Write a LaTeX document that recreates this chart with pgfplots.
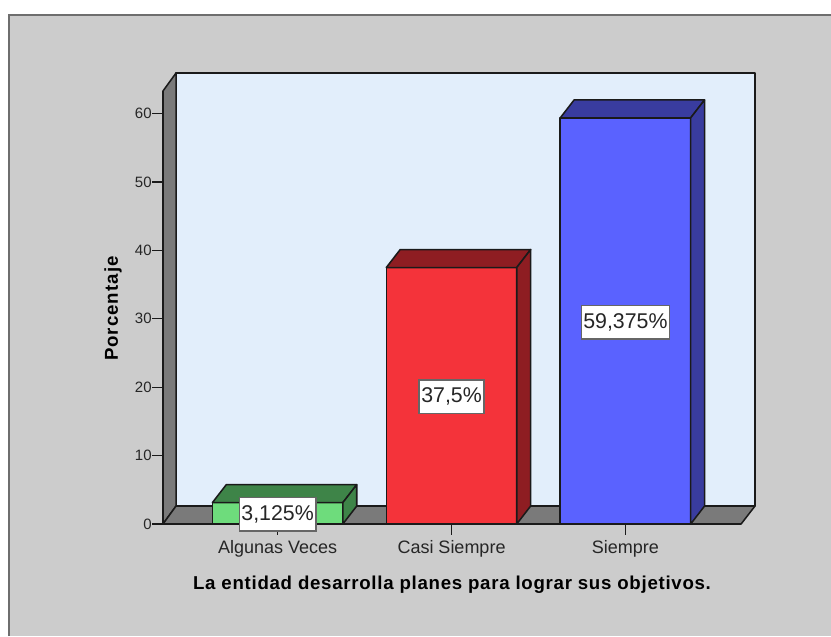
\documentclass[border=0pt]{standalone}
\usepackage{pgfplots}
\pgfplotsset{compat=1.18}
\usepackage{fontspec}
\setmainfont{Liberation Sans}
\newfontfamily\titlefont[LetterSpace=3.8]{Liberation Sans Bold}
\newfontfamily\ylabfont[LetterSpace=5.5]{Liberation Sans Bold}
\definecolor{bggray}{HTML}{CCCCCC}
\definecolor{framec}{HTML}{6E6E6E}
\definecolor{wallc}{HTML}{E2EEFB}
\definecolor{sidec}{HTML}{7A7A7A}
\definecolor{edgec}{HTML}{1A1A1A}
\definecolor{gf}{HTML}{6EDC7C}
\definecolor{gt}{HTML}{3E8448}
\definecolor{rf}{HTML}{F4333A}
\definecolor{rt}{HTML}{8E1D22}
\definecolor{bf}{HTML}{5A62FF}
\definecolor{bt}{HTML}{393C9F}
\begin{document}
\begin{tikzpicture}[x=0.75pt,y=0.75pt]
\path[use as bounding box] (-163,-112) rectangle (668,524);
\fill[white] (-163,-112) rectangle (668,524);
\fill[bggray] (-153.5,-112) rectangle (668,508.5);
\draw[framec,line width=1.5pt] (-153.5,-112) -- (-153.5,508.5) -- (668,508.5);
\begin{axis}[
  scale only axis, width=444pt, height=338.25pt,
  xmin=-0.659, xmax=2.745, ymin=0, ymax=65.94,
  clip=false,
  axis x line=bottom, axis y line=left,
  axis line style={draw=none,-},
  xtick={0,1,2},
  xticklabels={Algunas Veces,Casi Siempre,Siempre},
  ytick={0,10,20,30,40,50,60},
  tick align=outside,
  x tick style={edgec,line width=1pt},
  y tick style={edgec,line width=1pt},
  major tick length=8pt,
  tick label style={/pgf/number format/assume math mode=true},
  xticklabel style={font=\fontsize{13.5}{15}\selectfont,text=black!85,yshift=-1pt},
  yticklabel style={font=\fontsize{11.25}{13}\selectfont,text=black!85,xshift=3pt},
  xlabel={\titlefont La entidad desarrolla planes para lograr sus objetivos.},
  ylabel={\ylabfont Porcentaje},
  label style={font=\fontsize{14}{16}\selectfont},
  xlabel style={at={(axis description cs:0.4882,-0.1352)},anchor=center},
  ylabel style={at={(axis description cs:-0.0845,0.4775)},anchor=center},
  every axis plot/.append style={draw=edgec,line width=1.15pt,line join=round,mark=none},
]
% walls and floor
\addplot[fill=wallc] coordinates {(-0.584,2.63) (2.745,2.63) (2.745,65.94) (-0.584,65.94)} --cycle;
\addplot[fill=sidec] coordinates {(-0.659,0) (-0.659,63.31) (-0.584,65.94) (-0.584,2.63)} --cycle;
\addplot[fill=sidec] coordinates {(-0.659,0) (2.665,0) (2.745,2.63) (-0.584,2.63)} --cycle;
% Algunas Veces 3.125
\addplot[fill=gf] coordinates {(-0.375,0) (0.375,0) (0.375,3.125) (-0.375,3.125)} --cycle;
\addplot[fill=gt] coordinates {(-0.375,3.125) (0.375,3.125) (0.455,5.755) (-0.295,5.755)} --cycle;
\addplot[fill=gt] coordinates {(0.375,0) (0.455,2.63) (0.455,5.755) (0.375,3.125)} --cycle;
% Casi Siempre 37.5
\addplot[fill=rf] coordinates {(0.625,0) (1.375,0) (1.375,37.5) (0.625,37.5)} --cycle;
\addplot[fill=rt] coordinates {(0.625,37.5) (1.375,37.5) (1.455,40.13) (0.705,40.13)} --cycle;
\addplot[fill=rt] coordinates {(1.375,0) (1.455,2.63) (1.455,40.13) (1.375,37.5)} --cycle;
% Siempre 59.375
\addplot[fill=bf] coordinates {(1.625,0) (2.375,0) (2.375,59.375) (1.625,59.375)} --cycle;
\addplot[fill=bt] coordinates {(1.625,59.375) (2.375,59.375) (2.455,62.005) (1.705,62.005)} --cycle;
\addplot[fill=bt] coordinates {(2.375,0) (2.455,2.63) (2.455,62.005) (2.375,59.375)} --cycle;
% value labels
\begin{scope}[every node/.style={fill=white,draw=black!60,line width=1pt,inner xsep=1.6pt,inner ysep=0pt,minimum height=25pt,text=black!85,font=\fontsize{16}{18}\selectfont}]
\node at (axis cs:0,1.4) {\raisebox{-1pt}{3,125\%}};
\node at (axis cs:1,18.6) {\raisebox{-1pt}{37,5\%}};
\node at (axis cs:2,29.5) {\raisebox{-1pt}{59,375\%}};
\end{scope}
\end{axis}
\end{tikzpicture}
\end{document}
